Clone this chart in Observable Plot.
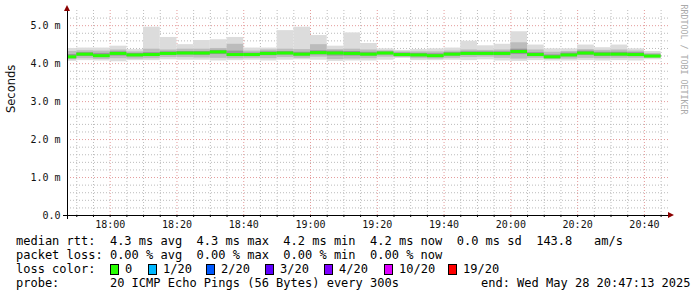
<!DOCTYPE html>
<html>
<head>
<meta charset="utf-8">
<script src="https://cdn.jsdelivr.net/npm/d3@7"></script>
<script src="https://cdn.jsdelivr.net/npm/@observablehq/plot@0.6"></script>
<style>
  html, body { margin: 0; padding: 0; background: #fff; }
  #legend { position: relative; width: 697px; height: 67px; font-family: "DejaVu Sans Mono", monospace; font-size: 12px; color: #000; }
  #legend .row { position: absolute; left: 16px; height: 14px; line-height: 14px; white-space: pre; }
  #legend .abs { position: absolute; white-space: pre; line-height: 14px; }
  #legend .box { position: absolute; width: 7px; height: 9px; border: 1px solid #000; }
</style>
</head>
<body>
<div id="chart"></div>
<div id="legend"></div>
<script>
// ---- data ----
const binTimes = ["17:47:13","17:50","17:55","18:00","18:05","18:10","18:15","18:20","18:25","18:30","18:35","18:40","18:45","18:50","18:55","19:00","19:05","19:10","19:15","19:20","19:25","19:30","19:35","19:40","19:45","19:50","19:55","20:00","20:05","20:10","20:15","20:20","20:25","20:30","20:35","20:40","20:45"];
const medianRtt = [4.18,4.25,4.21,4.27,4.23,4.24,4.27,4.28,4.28,4.31,4.24,4.24,4.27,4.28,4.25,4.29,4.28,4.27,4.25,4.28,4.24,4.23,4.21,4.25,4.27,4.27,4.27,4.32,4.24,4.18,4.23,4.28,4.25,4.25,4.24,4.20];
const maxRtt    = [4.40,4.41,4.41,4.46,4.37,4.96,4.69,4.50,4.61,4.63,4.69,4.41,4.41,4.87,4.96,4.74,4.46,4.81,4.53,4.39,4.35,4.37,4.39,4.41,4.59,4.47,4.51,4.84,4.49,4.39,4.39,4.49,4.42,4.49,4.39,4.32];
const minRtt    = [4.06,4.08,4.07,4.05,4.08,4.08,4.10,4.09,4.09,4.07,4.08,4.09,4.07,4.09,4.10,4.09,4.06,4.07,4.07,4.09,4.14,4.08,4.08,4.09,4.08,4.10,4.07,4.06,4.08,4.07,4.07,4.08,4.07,4.08,4.07,4.10];
const upperMid  = [4.32,4.34,4.33,4.36,4.31,4.38,4.36,4.38,4.38,4.40,4.51,4.33,4.36,4.38,4.37,4.50,4.37,4.38,4.36,4.34,4.31,4.31,4.31,4.33,4.36,4.35,4.36,4.55,4.36,4.30,4.32,4.37,4.35,4.36,4.33,4.27];
const lowerMid  = [4.10,4.13,4.11,4.13,4.12,4.13,4.16,4.16,4.15,4.14,4.13,4.14,4.13,4.16,4.14,4.17,4.11,4.12,4.13,4.17,4.16,4.13,4.12,4.14,4.16,4.17,4.14,4.12,4.14,4.11,4.12,4.14,4.13,4.14,4.14,4.14];
const upperCore = [4.24,4.29,4.27,4.31,4.27,4.29,4.31,4.32,4.32,4.35,4.33,4.28,4.31,4.32,4.30,4.34,4.33,4.32,4.30,4.31,4.28,4.27,4.26,4.29,4.31,4.31,4.31,4.38,4.29,4.23,4.28,4.33,4.30,4.30,4.29,4.23];
const lowerCore = [4.13,4.19,4.16,4.20,4.18,4.19,4.22,4.23,4.22,4.24,4.19,4.19,4.21,4.23,4.20,4.23,4.20,4.20,4.20,4.23,4.20,4.18,4.16,4.20,4.22,4.22,4.21,4.24,4.19,4.14,4.18,4.22,4.19,4.20,4.19,4.17];
const xMajorTicks = ["18:00","18:20","18:40","19:00","19:20","19:40","20:00","20:20","20:40"];
const yMajorTicks = [0,1,2,3,4,5];
const yMinorTicks = [0.2,0.4,0.6,0.8,1.2,1.4,1.6,1.8,2.2,2.4,2.6,2.8,3.2,3.4,3.6,3.8,4.2,4.4,4.6,4.8,5.2];
const xStart = "17:47:13", xEnd = "20:47:13";
const lossLabels = ["0","1/20","2/20","3/20","4/20","10/20","19/20"];
const lossColors = ["#26ff00","#00b8ff","#0059ff","#5e00ff","#7e00ff","#dd00ff","#ff0000"];
const statsLine1 = "median rtt:  4.3 ms avg  4.3 ms max  4.2 ms min  4.2 ms now  0.0 ms sd  143.8   am/s";
const statsLine2 = "packet loss: 0.00 % avg  0.00 % max  0.00 % min  0.00 % now";
const probeLine = "probe:       20 ICMP Echo Pings (56 Bytes) every 300s";
const endLine = "end: Wed May 28 20:47:13 2025";

// ---- build ----
const toDate = s => { const [h, m, sec = 0] = s.split(":").map(Number); return new Date(Date.UTC(2025, 4, 28, h, m, sec)); };
const bins = medianRtt.map((v, i) => ({
  start: toDate(binTimes[i]), end: toDate(binTimes[i + 1]),
  median: v, max: maxRtt[i], min: minRtt[i],
  hi2: upperMid[i], lo2: lowerMid[i], hi3: upperCore[i], lo3: lowerCore[i]
}));
const majorX = xMajorTicks.map(toDate);
const minorX = binTimes.slice(1).map(toDate).filter(d => !majorX.some(m => +m === +d));
const x0 = toDate(xStart), x1 = toDate(xEnd);
const mono = "DejaVu Sans Mono";

const chart = Plot.plot({
  width: 697, height: 230,
  marginLeft: 67, marginRight: 29, marginTop: 10, marginBottom: 15,
  style: { background: "#fff", fontFamily: mono, fontSize: "10px", color: "#111" },
  x: { type: "utc", domain: [x0, x1] },
  y: { type: "linear", domain: [0, 5.4] },
  marks: [
    Plot.ruleY(yMinorTicks, { stroke: "#bbbbbb", strokeDasharray: "1,2" }),
    Plot.ruleX(minorX, { stroke: "#bbbbbb", strokeDasharray: "1,2" }),
    Plot.ruleY(yMajorTicks.filter(d => d > 0), { stroke: "#e49a9a", strokeDasharray: "1,2" }),
    Plot.ruleX(majorX, { stroke: "#e49a9a", strokeDasharray: "1,2" }),
    Plot.rect(bins, { x1: "start", x2: "end", y1: "min", y2: "max", fill: "#dcdcdc" }),
    Plot.rect(bins, { x1: "start", x2: "end", y1: "lo2", y2: "hi2", fill: "#bcbcbc" }),
    Plot.rect(bins, { x1: "start", x2: "end", y1: "lo3", y2: "hi3", fill: "#979797" }),
    Plot.ruleY(bins, { x1: "start", x2: "end", y: "median", stroke: "#26ff00", strokeWidth: 3 }),
    Plot.ruleY([0], { stroke: "#000", insetLeft: -4 }),
    Plot.ruleX([x0], { stroke: "#000", insetBottom: -4 }),
    Plot.ruleX(majorX.concat(minorX), { y1: 0, y2: 0, stroke: "#000", insetBottom: -2 }),
    Plot.axisY({ ticks: yMajorTicks, tickSize: 0, tickPadding: 7, tickFormat: d => d === 0 ? "0.0" : `${d.toFixed(1)} m`, label: null, fill: "#111" }),
    Plot.axisX({ ticks: majorX, tickSize: 0, tickPadding: 5, tickFormat: d3.utcFormat("%H:%M"), label: null, fill: "#111" }),
    Plot.text(["Seconds"], { frameAnchor: "left", dx: -56, rotate: -90, fontFamily: "DejaVu Sans", fontSize: 11.5, fill: "#111" }),
    Plot.text(["RRDTOOL / TOBI OETIKER"], { frameAnchor: "top-right", dx: 18, dy: -6, rotate: 90, textAnchor: "start", fontFamily: mono, fontSize: 8.3, fill: "#aaaaaa" })
  ]
});
document.getElementById("chart").appendChild(chart);

// axis arrowheads (decoration), positioned with the chart's own scales
const sx = chart.scale("x"), sy = chart.scale("y");
const ax = sx.apply(x0), ayTop = sy.apply(5.4), bx = sx.apply(x1), by = sy.apply(0);
const svg = d3.select(chart);
svg.append("path").attr("d", `M${ax - 3},${ayTop + 1}L${ax + 3},${ayTop + 1}L${ax},${ayTop - 5}Z`).attr("fill", "#8b0000");
svg.append("path").attr("d", `M${bx},${by - 3}L${bx},${by + 3}L${bx + 6},${by}Z`).attr("fill", "#8b0000");

// ---- legend ----
const legend = d3.select("#legend");
const rowTops = [4, 18, 32, 46];
legend.append("div").attr("class", "row").style("top", rowTops[0] + "px").text(statsLine1);
legend.append("div").attr("class", "row").style("top", rowTops[1] + "px").text(statsLine2);
legend.append("div").attr("class", "row").style("top", rowTops[2] + "px").text("loss color:");
const boxLefts = [110, 148, 206, 265, 324, 384, 448];
lossLabels.forEach((lab, i) => {
  legend.append("div").attr("class", "box").style("left", boxLefts[i] + "px").style("top", (rowTops[2] + 2) + "px").style("background", lossColors[i]);
  legend.append("div").attr("class", "abs").style("left", (boxLefts[i] + 15) + "px").style("top", rowTops[2] + "px").text(lab);
});
legend.append("div").attr("class", "row").style("top", rowTops[3] + "px").text(probeLine);
legend.append("div").attr("class", "abs").style("left", "481px").style("top", rowTops[3] + "px").text(endLine);
</script>
</body>
</html>
